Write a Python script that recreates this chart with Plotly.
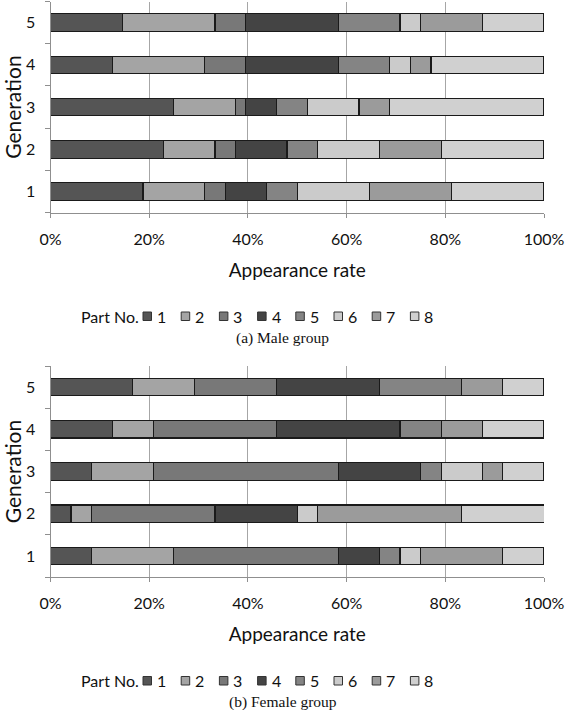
import plotly.graph_objects as go

# ---------------- data ----------------
generations = ["1", "2", "3", "4", "5"]
parts = ["1", "2", "3", "4", "5", "6", "7", "8"]
tick_vals = [0, 20, 40, 60, 80, 100]
tick_text = ["0%", "20%", "40%", "60%", "80%", "100%"]

# Male group: appearance rate (%) of each part, generation 1..5
male_p1 = [18.75, 22.92, 25.00, 12.50, 14.58]
male_p2 = [12.50, 10.42, 12.50, 18.75, 18.75]
male_p3 = [4.17, 4.17, 2.08, 8.33, 6.25]
male_p4 = [8.33, 10.42, 6.25, 18.75, 18.75]
male_p5 = [6.25, 6.25, 6.25, 10.42, 12.50]
male_p6 = [14.58, 12.50, 10.42, 4.17, 4.17]
male_p7 = [16.67, 12.50, 6.25, 4.17, 12.50]
male_p8 = [18.75, 20.83, 31.25, 22.92, 12.50]

# Female group
female_p1 = [8.33, 4.17, 8.33, 12.50, 16.67]
female_p2 = [16.67, 4.17, 12.50, 8.33, 12.50]
female_p3 = [33.33, 25.00, 37.50, 25.00, 16.67]
female_p4 = [8.33, 16.67, 16.67, 25.00, 20.83]
female_p5 = [4.17, 0.00, 4.17, 8.33, 16.67]
female_p6 = [4.17, 4.17, 8.33, 0.00, 0.00]
female_p7 = [16.67, 29.17, 4.17, 8.33, 8.33]
female_p8 = [8.33, 16.67, 8.33, 12.50, 8.33]

male_rates = [male_p1, male_p2, male_p3, male_p4, male_p5, male_p6, male_p7, male_p8]
female_rates = [female_p1, female_p2, female_p3, female_p4, female_p5, female_p6, female_p7, female_p8]
captions = ["(a) Male group", "(b) Female group"]

# ---------------- style ----------------
colors = ["#555555", "#a4a4a4", "#787878", "#444444", "#848484", "#cbcbcb", "#9b9b9b", "#d0d0d0"]
W, H = 565, 710
SANS = "Lato, 'Open Sans', sans-serif"
SERIF = "'Liberation Serif', 'DejaVu Serif', serif"


def fx(px):
    return px / W


def fy(py):
    return 1 - py / H


fig = go.Figure()

groups = [(male_rates, "x", "y"), (female_rates, "x2", "y2")]
for rates, xa, ya in groups:
    for i, part in enumerate(parts):
        fig.add_trace(go.Bar(
            y=generations, x=rates[i], orientation="h", name=part,
            marker=dict(color=colors[i], line=dict(color="#1a1a1a", width=1.2)),
            xaxis=xa, yaxis=ya, showlegend=False,
            hovertemplate="Gen %{y}: %{x:.1f}%<extra>Part " + part + "</extra>",
        ))

xaxis_common = dict(
    range=[0, 100], tickvals=tick_vals, ticktext=tick_text,
    showgrid=True, gridcolor="#a6a6a6", gridwidth=1,
    showline=True, linecolor="#8f8f8f", linewidth=1,
    ticks="outside", ticklen=4, tickcolor="#8f8f8f",
    ticklabelstandoff=8, automargin=False,
    tickfont=dict(family=SANS, size=16, color="#111111"),
    zeroline=False, fixedrange=True,
    title=dict(text="Appearance rate", font=dict(family=SANS, size=19, color="#111111"), standoff=16),
)
yaxis_common = dict(
    type="category", categoryorder="array", categoryarray=generations,
    showgrid=False, showline=True, linecolor="#8f8f8f", linewidth=1,
    ticks="outside", ticklen=5, tickcolor="#8f8f8f", tickson="boundaries",
    ticklabelstandoff=11, automargin=False,
    tickfont=dict(family=SANS, size=16, color="#111111"),
    zeroline=False, fixedrange=True,
    title=dict(text="Generation", font=dict(family=SANS, size=21, color="#111111"), standoff=8),
)

fig.update_layout(
    width=W, height=H,
    margin=dict(l=0, r=0, t=0, b=0, autoexpand=False),
    paper_bgcolor="white", plot_bgcolor="white",
    barmode="stack", bargap=0.585,
    showlegend=False,
    xaxis=dict(domain=[fx(50.5), fx(544)], anchor="y", **xaxis_common),
    yaxis=dict(domain=[fy(212.7), fy(1.5)], anchor="x", **yaxis_common),
    xaxis2=dict(domain=[fx(50.5), fx(544)], anchor="y2", **xaxis_common),
    yaxis2=dict(domain=[fy(577), fy(366)], anchor="x2", **yaxis_common),
)

# ---------------- custom legends + captions ----------------
legend_rows = [(316, 338), (680.5, 702)]
annotations = []
shapes = []
for (ly, cy), cap in zip(legend_rows, captions):
    annotations.append(dict(
        x=fx(141), y=fy(ly), xref="paper", yref="paper", xanchor="right", yanchor="middle",
        text="Part No.", showarrow=False, font=dict(family=SANS, size=16, color="#111111")))
    for i, part in enumerate(parts):
        sx = 143 + i * 38.2
        shapes.append(dict(
            type="rect", xref="paper", yref="paper",
            x0=fx(sx), x1=fx(sx + 8.5), y0=fy(ly + 4.5), y1=fy(ly - 4),
            fillcolor=colors[i], line=dict(color="#333333", width=1)))
        annotations.append(dict(
            x=fx(sx + 12), y=fy(ly), xref="paper", yref="paper", xanchor="left", yanchor="middle",
            text=part, showarrow=False, font=dict(family=SANS, size=16, color="#111111")))
    annotations.append(dict(
        x=fx(282.5), y=fy(cy), xref="paper", yref="paper", xanchor="center", yanchor="middle",
        text=cap, showarrow=False, font=dict(family=SERIF, size=15.5, color="#111111")))

fig.update_layout(annotations=annotations, shapes=shapes)

fig.write_html(
    "out.html",
    config={"displayModeBar": False},
    post_script="document.body.style.margin='0px';document.body.style.padding='0px';",
)
